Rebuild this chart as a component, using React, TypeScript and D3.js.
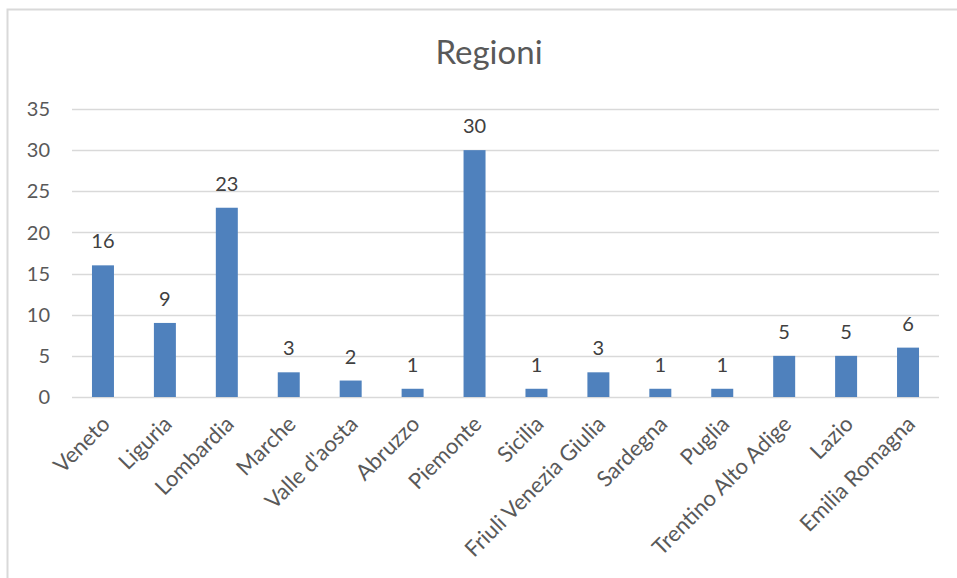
import React from "react";
import * as d3 from "d3";

const categories = [
  "Veneto",
  "Liguria",
  "Lombardia",
  "Marche",
  "Valle d'aosta",
  "Abruzzo",
  "Piemonte",
  "Sicilia",
  "Friuli Venezia Giulia",
  "Sardegna",
  "Puglia",
  "Trentino Alto Adige",
  "Lazio",
  "Emilia Romagna",
];
const values = [16, 9, 23, 3, 2, 1, 30, 1, 3, 1, 1, 5, 5, 6];
const yTicks = [0, 5, 10, 15, 20, 25, 30, 35];
const title = "Regioni";

const W = 957;
const H = 578;
const FONT = "Lato, 'Open Sans', sans-serif";

export default function App() {
  const x = d3
    .scaleBand<string>()
    .domain(categories)
    .range([72, 939])
    .paddingInner(0.645)
    .paddingOuter(0.3225);
  const y = d3.scaleLinear().domain([0, 35]).range([397, 109]);

  return (
    <svg
      width={W}
      height={H}
      style={{ position: "absolute", left: 0, top: 0, background: "#fff" }}
    >
      <rect x={0} y={0} width={W} height={H} fill="#fff" />
      <path d={`M7.5,${H} L7.5,9.5 L${W},9.5`} fill="none" stroke="#d9d9d9" strokeWidth={2} />
      <text
        x={489}
        y={64}
        textAnchor="middle"
        fontFamily={FONT}
        fontSize={33}
        fill="#595959"
      >
        {title}
      </text>
      {yTicks.map((t) => (
        <g key={t}>
          <line
            x1={72}
            x2={939}
            y1={Math.round(y(t)) + 0.5}
            y2={Math.round(y(t)) + 0.5}
            stroke="#d9d9d9"
            strokeWidth={1.5}
          />
          <text
            x={50}
            y={y(t)}
            dy="0.36em"
            textAnchor="end"
            fontFamily={FONT}
            fontSize={20}
            fill="#595959"
          >
            {t}
          </text>
        </g>
      ))}
      {categories.map((c, i) => {
        const bx = x(c)!;
        const bw = x.bandwidth();
        const cx = bx + bw / 2;
        return (
          <g key={c}>
            <rect
              x={bx}
              y={y(values[i])}
              width={bw}
              height={y(0) - y(values[i])}
              fill="#4f81bd"
            />
            <text
              x={cx}
              y={y(values[i]) - 17}
              textAnchor="middle"
              fontFamily={FONT}
              fontSize={20}
              fill="#404040"
            >
              {values[i]}
            </text>
            <text
              transform={`translate(${cx + 3},${420}) rotate(-45)`}
              textAnchor="end"
              dy="0.35em"
              fontFamily={FONT}
              fontSize={22}
              fill="#595959"
            >
              {c}
            </text>
          </g>
        );
      })}
    </svg>
  );
}
